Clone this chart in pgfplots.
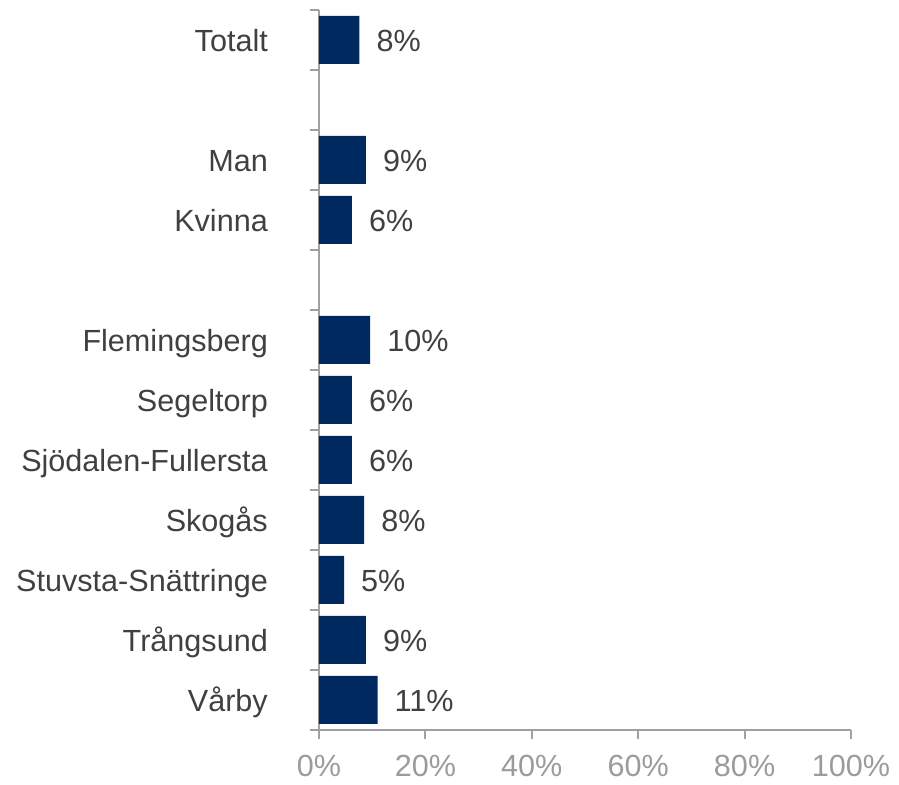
\documentclass[border=0pt]{standalone}
\usepackage{fontspec}
\setmainfont{Liberation Sans}
\usepackage{pgfplots}
\usepackage{pgfplotstable}
\pgfplotsset{compat=1.18}
\definecolor{barblue}{RGB}{0,41,96}
\definecolor{axisgray}{RGB}{160,160,160}
\definecolor{ticktext}{RGB}{155,155,155}
\definecolor{valtext}{RGB}{64,64,64}
\pgfplotstableread{
y x label
11 7.6 8
9 8.8 9
8 6.2 6
6 9.6 10
5 6.2 6
4 6.2 6
3 8.5 8
2 4.7 5
1 8.8 9
0 11.0 11
}\datatable
\begin{document}
\fontsize{30.7}{36}\selectfont
\begin{tikzpicture}
\path[use as bounding box] (-319bp,-55bp) rectangle (580bp,730bp);
\begin{axis}[
  scale only axis,
  width=532bp, height=720bp,
  xmin=0, xmax=100,
  ymin=-0.5, ymax=11.5,
  axis lines*=left,
  axis line style={draw=axisgray, line width=2bp},
  tick style={draw=axisgray, line width=2bp},
  tick align=outside,
  major tick length=9bp,
  xtick={0,20,40,60,80,100},
  xticklabel={\pgfmathprintnumber{\tick}\%},
  xticklabel style={anchor=base, inner sep=0pt, yshift=-37bp, text=ticktext, font=\fontsize{30.7}{36}\selectfont},
  /pgf/number format/assume math mode=true,
  ytick={-0.5,0.5,...,11.5},
  yticklabels={},
  extra y ticks={0,1,2,3,4,5,6,7,8,9,10,11},
  extra y tick labels={Vårby,Trångsund,Stuvsta-Snättringe,Skogås,Sjödalen-Fullersta,Segeltorp,Flemingsberg,{},Kvinna,Man,{},Totalt},
  extra y tick style={major tick length=0pt, yticklabel style={anchor=base east, inner sep=0pt, xshift=-51bp, yshift=-11.5bp, text=valtext, font=\fontsize{30.7}{36}\selectfont}},
  clip=false,
]
\addplot[xbar, bar width=0.8, fill=barblue, draw=none,
  point meta=explicit symbolic,
  nodes near coords={\pgfplotspointmeta\%},
  every node near coord/.append style={anchor=base west, inner sep=0pt, xshift=17bp, yshift=-11.5bp, text=valtext, font=\fontsize{30.7}{36}\selectfont}]
  table[x=x, y=y, meta=label] \datatable;
\end{axis}
\end{tikzpicture}
\end{document}
